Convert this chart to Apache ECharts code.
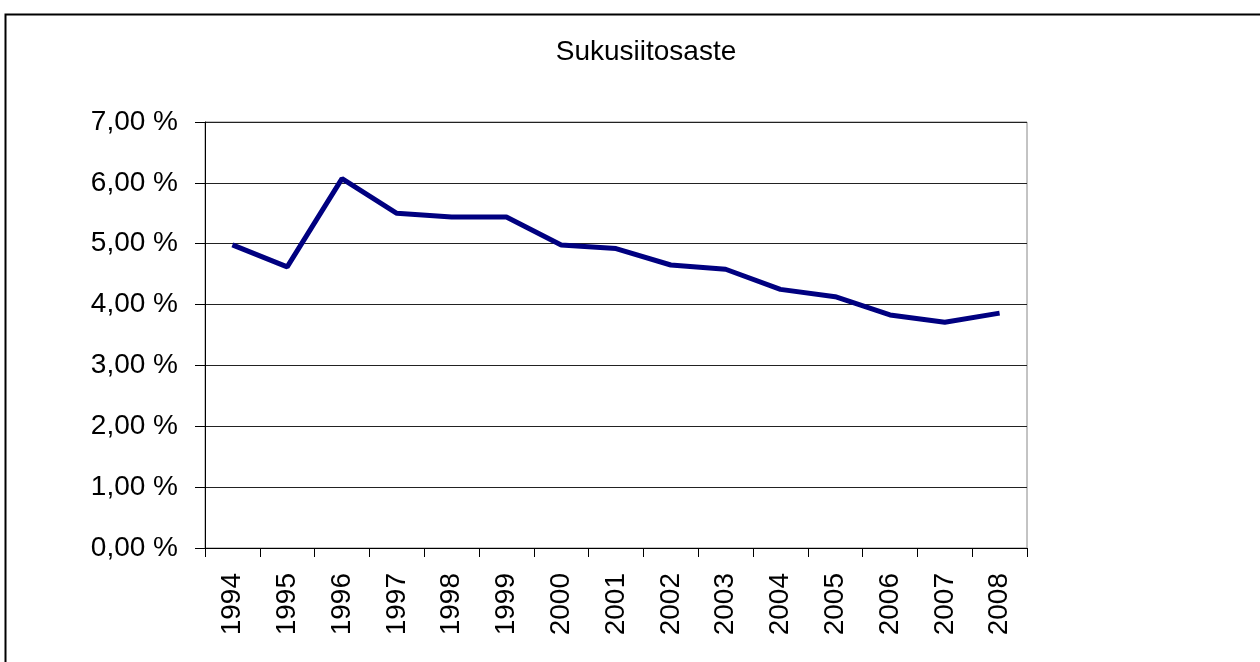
<!DOCTYPE html>
<html>
<head>
<meta charset="utf-8">
<script src="https://cdn.jsdelivr.net/npm/echarts@6/dist/echarts.min.js"></script>
<style>
html,body{margin:0;padding:0;background:#fff;}
#chart{width:1260px;height:662px;}
</style>
</head>
<body>
<div id="chart"></div>
<script>
const years = ['1994','1995','1996','1997','1998','1999','2000','2001','2002','2003','2004','2005','2006','2007','2008'];
const sukusiitosaste = [4.98, 4.62, 6.07, 5.50, 5.44, 5.44, 4.98, 4.92, 4.65, 4.58, 4.25, 4.13, 3.83, 3.71, 3.86];
const yTicks = [0, 1, 2, 3, 4, 5, 6, 7];
const titleText = 'Sukusiitosaste';

const chart = echarts.init(document.getElementById('chart'));
const font = 'Liberation Sans, Arial, sans-serif';
chart.setOption({
  animation: false,
  backgroundColor: '#fff',
  title: {
    text: titleText,
    left: 641, top: 33, textAlign: 'center',
    textStyle: {fontFamily: font, fontSize: 28, fontWeight: 'normal', color: '#000'}
  },
  graphic: [{
    type: 'rect', left: 3, top: 12, z: 0,
    shape: {width: 1300, height: 700},
    style: {fill: 'none', stroke: '#000', lineWidth: 2}
  }],
  grid: {left: 205, right: 233, top: 122, bottom: 114, show: true, borderColor: '#888', borderWidth: 1, backgroundColor: 'transparent'},
  xAxis: {
    type: 'category', data: years, boundaryGap: true,
    axisLine: {lineStyle: {color: '#000', width: 1}},
    axisTick: {show: true, length: 9, lineStyle: {color: '#000'}, alignWithLabel: false},
    axisLabel: {rotate: 90, fontFamily: font, fontSize: 28, color: '#000', margin: 25}
  },
  yAxis: {
    type: 'value', min: yTicks[0], max: yTicks[yTicks.length-1], interval: 1,
    axisLine: {show: true, lineStyle: {color: '#000', width: 1}},
    axisTick: {show: true, length: 10, lineStyle: {color: '#000'}},
    splitLine: {show: true, lineStyle: {color: '#222', width: 1}},
    axisLabel: {fontFamily: font, fontSize: 28, color: '#000', margin: 27,
      formatter: v => v.toFixed(2).replace('.', ',') + ' %'}
  },
  series: [{
    type: 'line', data: sukusiitosaste,
    symbol: 'none',
    lineStyle: {color: '#000080', width: 5},
    itemStyle: {color: '#000080'}
  }]
});
</script>
</body>
</html>
